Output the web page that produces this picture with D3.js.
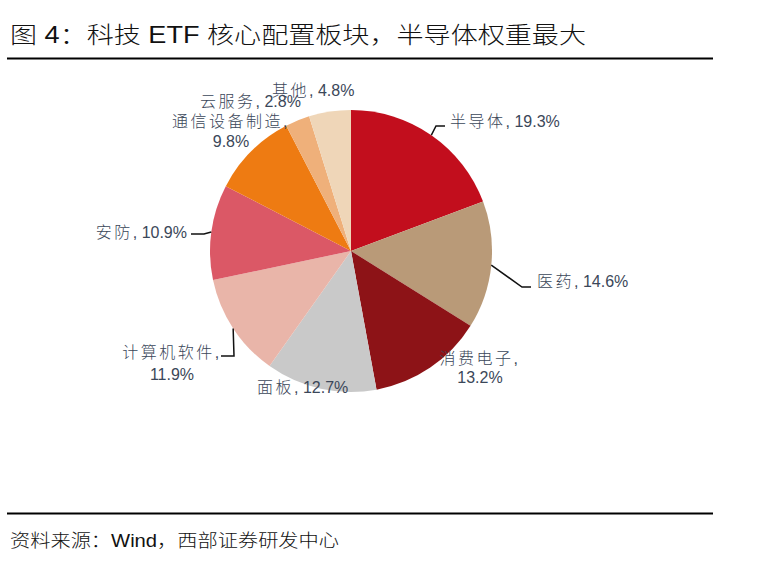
<!DOCTYPE html>
<html><head><meta charset="utf-8">
<script src="https://cdn.jsdelivr.net/npm/d3@7"></script>
<style>
html,body{margin:0;padding:0;background:#fff;}
svg{display:block;}
</style></head>
<body>
<svg id="chart" width="759" height="576"></svg>
<script>
// ---- data ----
const categories = ["半导体","医药","消费电子","面板","计算机软件","安防","通信设备制造","云服务","其他"];
const shares = [19.3, 14.6, 13.2, 12.7, 11.9, 10.9, 9.8, 2.8, 4.8];
const sliceColors = ["#C20E1D","#B99A78","#8D1317","#C9C9C9","#E9B5A9","#DB5866","#EE7B12","#EFB07A","#EFD6B8"];
const titleText = "图 4：科技 ETF 核心配置板块，半导体权重最大";
const sourceText = "资料来源：Wind，西部证券研发中心";

// ---- label layout (placement only) ----
const labelLayout = [
  {x:450, y:127, anchor:"start", twoLine:false, leader:[[436,126],[445,126]]},
  {x:537, y:287, anchor:"start", twoLine:false, leader:[[522,287],[531,287]]},
  {x:480, y:364, anchor:"middle", twoLine:true, dy:19, leader:null},
  {x:257, y:393, anchor:"start", twoLine:false, leader:null},
  {x:172, y:358, anchor:"middle", twoLine:true, dy:22, leader:[[234,356],[221,356]]},
  {x:187, y:238, anchor:"end", twoLine:false, leader:[[204,234],[191,234]]},
  {x:231, y:127, anchor:"middle", twoLine:true, dy:20, leader:null},
  {x:200, y:107, anchor:"start", twoLine:false, leader:null},
  {x:272, y:96, anchor:"start", twoLine:false, leader:null}
];

const svg = d3.select("#chart");
const cx = 351, cy = 251, R = 141;

// title
svg.append("text").attr("x",10).attr("y",43)
  .attr("textLength",576).attr("lengthAdjust","spacingAndGlyphs")
  .style("font-family","'Liberation Sans Narrow','Liberation Sans','Noto Sans CJK SC'")
  .style("font-size","23px").style("font-weight","300").attr("fill","#111").text(titleText);
svg.append("line").attr("x1",7).attr("x2",713).attr("y1",58.5).attr("y2",58.5)
  .attr("stroke","#000").attr("stroke-width",2);
svg.append("line").attr("x1",7).attr("x2",713).attr("y1",513.5).attr("y2",513.5)
  .attr("stroke","#000").attr("stroke-width",2);
svg.append("text").attr("x",10).attr("y",547)
  .attr("textLength",329).attr("lengthAdjust","spacingAndGlyphs")
  .style("font-family","'Liberation Sans Narrow','Liberation Sans','Noto Sans CJK SC'")
  .style("font-size","18px").style("font-weight","300").attr("fill","#111").text(sourceText);

// pie
const data = categories.map((c,i)=>({name:c, value:shares[i], color:sliceColors[i], lay:labelLayout[i]}));
const pie = d3.pie().value(d=>d.value).sort(null);
const arc = d3.arc().innerRadius(0).outerRadius(R);
const arcs = pie(data);
const g = svg.append("g").attr("transform",`translate(${cx},${cy})`);
g.selectAll("path").data(arcs).join("path")
  .attr("d",arc).attr("fill",d=>d.data.color);

// leaders
arcs.forEach(a=>{
  const L = a.data.lay;
  if(!L.leader) return;
  const mid = (a.startAngle+a.endAngle)/2;
  const p0 = [cx + R*Math.sin(mid), cy - R*Math.cos(mid)];
  const pts = [p0].concat(L.leader);
  svg.append("path").attr("d", d3.line()(pts))
    .attr("fill","none").attr("stroke","#111").attr("stroke-width",1.5);
});

// labels
const fontFam = "'Liberation Sans','Noto Sans CJK SC'";
arcs.forEach(a=>{
  const L = a.data.lay, d = a.data;
  const pct = d3.format(".1f")(d.value) + "%";
  const t = svg.append("text").attr("x",L.x).attr("y",L.y)
    .attr("text-anchor",L.anchor)
    .style("font-family",fontFam).style("font-size","16px").attr("fill","#3B4759");
  if(L.twoLine){
    t.append("tspan").style("letter-spacing","2.5px").style("font-weight","300").text(d.name + ",");
    t.append("tspan").attr("x",L.x).attr("dy",L.dy).text(pct);
  } else {
    t.append("tspan").style("letter-spacing","2.5px").style("font-weight","300").text(d.name);
    t.append("tspan").text(", " + pct);
  }
});
</script>
</body></html>
